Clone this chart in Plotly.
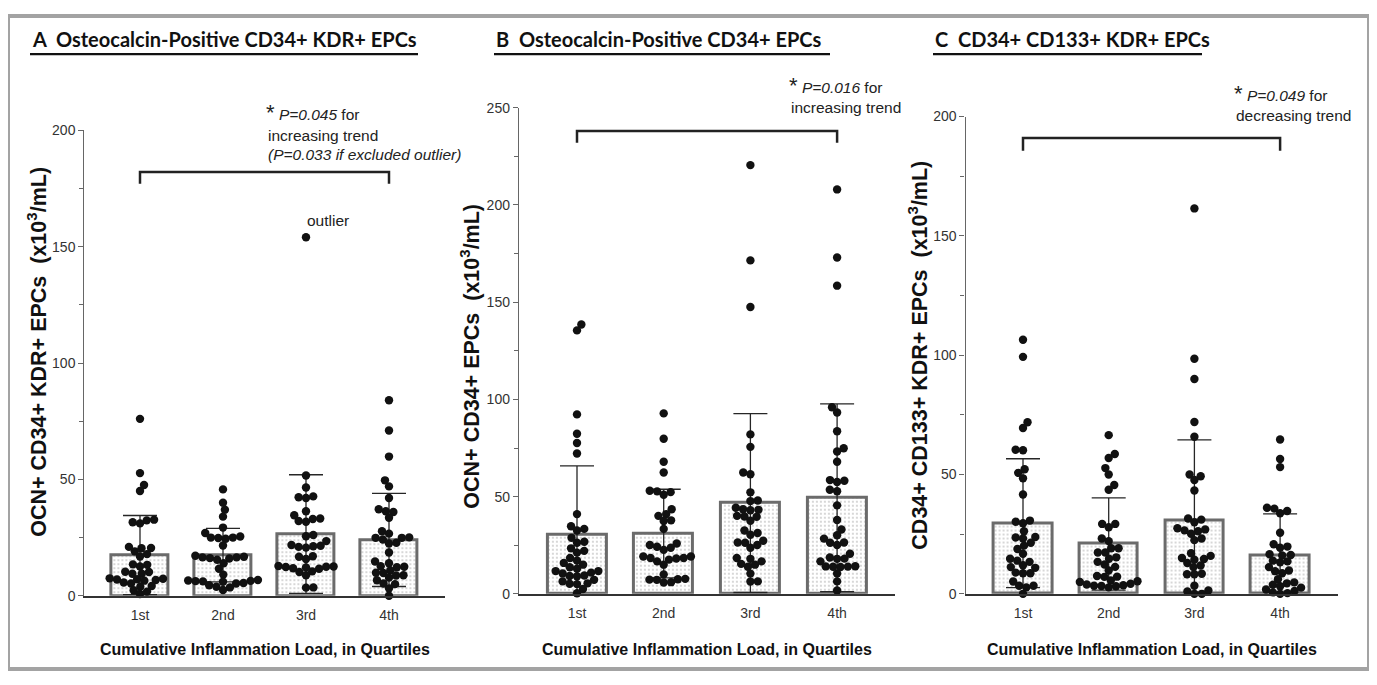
import numpy as np
import plotly.graph_objects as go

# ---------------- data ----------------
categories = ["1st", "2nd", "3rd", "4th"]

# Panel A: OCN+ CD34+ KDR+ EPCs
A_q1 = [76, 52.7, 47.6, 45, 32.7, 32.4, 31.6, 31.1, 21, 20.5, 20.4, 19.1, 17.9, 16.9, 13.5, 13.3, 12.6,
        10.3, 10.2, 9.5, 9.5, 7.5, 7.3, 7.1, 7.0, 6.8, 6.5, 5.7, 5.3, 4.2, 3.9, 2.4, 1.8, 0.8]
A_q2 = [45.7, 40, 37, 34, 29.3, 27, 25.5, 25, 25, 24.8, 24.5, 21.6, 17.2, 16.8, 16.5, 16.5, 16.2, 16,
        15.5, 14, 11.6, 9.1, 6.8, 6.6, 6.4, 6.3, 6.2, 6.0, 5.5, 5.3, 4.5, 3.9, 3.6, 2.5]
A_q3 = [154, 51.7, 46.5, 42.7, 42.3, 42, 36.3, 34.6, 33.2, 33, 32.1, 31.8, 26.1, 25.6, 23.5, 21.8, 21.5,
        21.3, 21, 20.7, 17, 16.8, 15.8, 12.8, 12.6, 12.5, 12.4, 12.2, 11.8, 11.6, 10.5, 10.2, 8.8, 3.6, 3.5]
A_q4 = [84, 71, 59.8, 49.6, 47, 42, 37.2, 36.3, 36, 33.5, 27.7, 26.7, 25.1, 24.9, 24.9, 24.2, 22.8, 22.5,
        18.6, 14.7, 14, 12.7, 12.5, 12.3, 10.9, 9.9, 9.8, 8.8, 8.7, 7.8, 6.7, 5.3, 5, 3.2, 0]
A_mean = [17.5, 17.5, 26.5, 24.0]
A_sd = [17.0, 11.5, 25.5, 20.0]

# Panel B: OCN+ CD34+ EPCs
B_q1 = [138.5, 135.5, 92.3, 82.3, 77.6, 72.2, 41, 34.8, 33.4, 32.6, 28.8, 26.8, 26.3, 23.4, 22.1, 21.2,
        18.4, 17.1, 15.9, 15, 13.7, 12.9, 11.7, 11.7, 10.9, 10.5, 9.4, 9.2, 9.0, 7.2, 6.4, 5.4, 5.2, 5,
        2.5, 0.3]
B_q2 = [92.8, 79.8, 67.9, 62.4, 53, 52.7, 52.3, 51, 43.5, 41, 40.1, 37.8, 37.5, 33.4, 25.9, 25.1, 24.2,
        23.7, 22.6, 19.2, 19.2, 18.4, 18.4, 18.2, 17.6, 16.7, 15, 10, 7.7, 7.5, 7.3, 7.2, 6, 5.8]
B_q3 = [220.5, 171.5, 147.5, 82, 75.6, 62.4, 61.5, 52.2, 48, 47.7, 44.3, 43.5, 43.2, 43, 40.1, 39.8, 39.6,
        37.6, 32.6, 31.3, 30.4, 27.3, 26.4, 26.3, 25.1, 23.7, 18.4, 18, 16.7, 15.4, 15, 13.9, 10.4, 6.4, 6.3]
B_q4 = [208, 173, 158.5, 96, 93.3, 83.6, 74.9, 73.2, 67.9, 58.5, 58.2, 57.5, 53.5, 52.8, 45.5, 38, 33.1,
        30.1, 28.4, 26.4, 26.3, 25.1, 20.6, 18.7, 18.1, 18, 16.7, 14.2, 14.1, 14, 13.9, 13.8, 10.5, 6.4, 1.7]
B_mean = [30.2, 31.0, 46.7, 49.4]
B_sd = [35.6, 22.8, 46.0, 48.3]

# Panel C: CD34+ CD133+ KDR+ EPCs
C_q1 = [106.5, 99.3, 71.9, 69.5, 60.4, 60.2, 52.2, 50.7, 48.4, 41.6, 30.7, 30.2, 29.6, 26.2, 23.8, 23.6,
        23.2, 21.4, 20.2, 18.8, 16.8, 14.7, 13.9, 13.4, 12, 11.2, 10.9, 8.9, 8.6, 8.6, 5.2, 3.4, 3.4, 2.7, 0]
C_q2 = [66.5, 58.6, 56.9, 52.7, 50, 45.6, 43.6, 29.3, 29.3, 27.9, 23.2, 22.1, 19.1, 19.1, 17.3, 17.3, 15.3,
        14.7, 13.4, 12.3, 11.3, 9.8, 7.5, 7.2, 7.1, 5.6, 5.3, 5.0, 4.2, 3.9, 3.6, 3.4, 3.3, 3.2, 2.7]
C_q3 = [161.5, 98.5, 90, 72, 65.8, 50, 49.3, 47.7, 43.3, 31.6, 31.1, 30, 27.5, 27, 26.6, 26.2, 25.2, 23.2,
        22.5, 17, 15.9, 15, 14.6, 14.3, 12.9, 11.9, 11.2, 8.4, 8.2, 8.2, 3.4, 1.4, 1, 0, 0]
C_q4 = [64.7, 56.5, 53.1, 36.1, 35.7, 34.7, 33.8, 25.6, 20.8, 19.8, 19.3, 16.6, 16.3, 16.1, 13.9, 13.6,
        13.2, 11.2, 9.8, 9.5, 8.6, 6.1, 4.8, 4.4, 3.8, 3.2, 2.6, 1.8, 1.2, 0.6, 0.3, 0]
C_mean = [29.6, 20.9, 30.7, 16.0]
C_sd = [27.0, 19.3, 33.8, 17.5]

# ---------------- layout helpers ----------------
OX, OY = 8, 8
W, H = 1361, 669


def px(X):
    return (X - OX) / W


def py(Y):
    return 1 - (Y - OY) / H


XR = [-0.67, 3.67]
FONT = "Liberation Sans, Arial, sans-serif"

panels = [
    dict(groups=[A_q1, A_q2, A_q3, A_q4], mean=A_mean, sd=A_sd, cat0=140, dcat=83.0,
         y0=602, ytop=125, ymax=200, dtick=50,
         ytitle="OCN+ CD34+ KDR+ EPCs  (x10<sup>3</sup>/mL)", ytx=37, yty=352,
         bracket=(182, 177)),
    dict(groups=[B_q1, B_q2, B_q3, B_q4], mean=B_mean, sd=B_sd, cat0=577, dcat=86.7,
         y0=600, ytop=102, ymax=250, dtick=50,
         ytitle="OCN+ CD34+ EPCs  (x10<sup>3</sup>/mL)", ytx=470, yty=356,
         bracket=(238, 232)),
    dict(groups=[C_q1, C_q2, C_q3, C_q4], mean=C_mean, sd=C_sd, cat0=1023, dcat=85.7,
         y0=600, ytop=111, ymax=200, dtick=50,
         ytitle="CD34+ CD133+ KDR+ EPCs  (x10<sup>3</sup>/mL)", ytx=918, yty=356,
         bracket=(191, 185.7)),
]


def swarm(vals, ypu, d=7.4):
    vals = np.asarray(vals, float)
    order = np.argsort(vals, kind="stable")
    placed = []
    xs = np.zeros(len(vals))
    side = 1
    for i in order:
        y = vals[i] * ypu
        cands = [0.0]
        for (qx, qy) in placed:
            dy = abs(qy - y)
            if dy < d:
                dx = np.sqrt(d * d - dy * dy)
                cands += [qx + dx, qx - dx]
        cands = sorted(cands, key=lambda c: (round(abs(c), 3), -side * c))
        for c in cands:
            if all((c - qx) ** 2 + (y - qy) ** 2 >= d * d - 1e-6 for qx, qy in placed):
                xs[i] = c
                break
        if xs[i] != 0:
            side = -side
        placed.append((xs[i], y))
    return xs


fig = go.Figure()
shapes = []
annotations = []

for k, p in enumerate(panels):
    sfx = "" if k == 0 else str(k + 1)
    xa = "x" + sfx
    ya = "y" + sfx
    xl = p["cat0"] + XR[0] * p["dcat"]
    xr = p["cat0"] + XR[1] * p["dcat"]
    ypu = (p["y0"] - p["ytop"]) / p["ymax"]

    fig.add_trace(go.Bar(
        x=[0, 1, 2, 3], y=p["mean"], width=0.68, xaxis=xa, yaxis=ya,
        marker=dict(color="white", line=dict(color="#6b6b6b", width=3),
                    pattern=dict(shape=".", fgcolor="#9c9c9c", bgcolor="white", size=4, solidity=0.22)),
        error_y=dict(type="data", array=p["sd"], color="#262626", thickness=1.3, width=17),
        showlegend=False, hoverinfo="skip"))

    xs_all, ys_all = [], []
    for gi, vals in enumerate(p["groups"]):
        offs = swarm(vals, ypu)
        xs_all += list(gi + offs / p["dcat"])
        ys_all += list(vals)
    fig.add_trace(go.Scatter(
        x=xs_all, y=ys_all, mode="markers", xaxis=xa, yaxis=ya, cliponaxis=False,
        marker=dict(size=8.4, color="#111111", line=dict(width=0)), showlegend=False))

    fig.layout["xaxis" + sfx] = dict(
        domain=[px(xl), px(xr)], range=XR, anchor=ya, showgrid=False, zeroline=False,
        showline=True, linecolor="#333", linewidth=1.6, ticks="", tickvals=[0, 1, 2, 3],
        ticktext=categories, tickfont=dict(family=FONT, size=14, color="#333"),
        ticklabelstandoff=6, fixedrange=True)
    fig.layout["yaxis" + sfx] = dict(
        domain=[py(p["y0"]), py(p["ytop"])], range=[0, p["ymax"]], anchor=xa, showgrid=False,
        zeroline=False, showline=True, linecolor="#666", linewidth=1.3, ticks="outside",
        ticklen=5, tickwidth=1.2, tickcolor="#666", dtick=p["dtick"],
        minor=dict(dtick=25, ticks="outside", ticklen=4, tickcolor="#666", tickwidth=1),
        tickfont=dict(family=FONT, size=14, color="#333"), fixedrange=True)

    # bracket
    bt, be = p["bracket"]
    shapes.append(dict(type="path", xref=xa, yref=ya,
                       path=f"M 0,{be} L 0,{bt} L 3,{bt} L 3,{be}",
                       line=dict(color="#222", width=2.5)))

    # y title
    annotations.append(dict(text="<b>" + p["ytitle"] + "</b>", x=px(p["ytx"]), y=py(p["yty"]),
                            xref="paper", yref="paper", textangle=-90, showarrow=False,
                            font=dict(family=FONT, size=21.5, color="#111"),
                            xanchor="center", yanchor="middle"))
    # x title
    annotations.append(dict(text="<b>Cumulative Inflammation Load, in Quartiles</b>",
                            x=px((xl + xr) / 2), y=py(657), xref="paper", yref="paper",
                            showarrow=False, font=dict(family=FONT, size=16, color="#111"),
                            xanchor="center", yanchor="middle"))

# panel titles
titles = [("A  Osteocalcin-Positive CD34+ KDR+ EPCs", 30, 418),
          ("B  Osteocalcin-Positive CD34+ EPCs", 494, 830),
          ("C  CD34+ CD133+ KDR+ EPCs", 933, 1202)]
for t, x0, x1 in titles:
    annotations.append(dict(text="<b>" + t + "</b>", x=px(x0), y=py(32), xref="paper", yref="paper",
                            showarrow=False, xanchor="left", yanchor="middle",
                            font=dict(family="Lato, Open Sans, sans-serif", size=20, color="#111")))
    shapes.append(dict(type="line", xref="paper", yref="paper", x0=px(x0), x1=px(x1),
                       y0=py(47), y1=py(47), line=dict(color="#111", width=2.2)))

STAR = "<span style='font-size:22px'>*</span> "
notes = [
    (STAR + "<i>P=0.045</i> for", 264, 107),
    ("increasing trend", 266, 130),
    ("<i>(P=0.033 if excluded outlier)</i>", 266, 150),
    (STAR + "<i>P=0.016</i> for", 787, 79),
    ("increasing trend", 789, 102),
    (STAR + "<i>P=0.049</i> for", 1232, 87),
    ("decreasing trend", 1234, 110),
]
for t, x, y in notes:
    annotations.append(dict(text=t, x=px(x), y=py(y), xref="paper", yref="paper", showarrow=False,
                            xanchor="left", yanchor="middle",
                            font=dict(family=FONT, size=15.5, color="#222")))
annotations.append(dict(text="outlier", x=px(328), y=py(217), xref="paper", yref="paper",
                        showarrow=False, xanchor="center", yanchor="middle",
                        font=dict(family=FONT, size=15.5, color="#222")))

# outer frame
shapes.append(dict(type="rect", xref="paper", yref="paper", x0=0, x1=1, y0=0, y1=1,
                   line=dict(color="#a3a3a3", width=4)))

fig.update_layout(width=W, height=H, margin=dict(l=0, r=0, t=0, b=0),
                  paper_bgcolor="white", plot_bgcolor="white",
                  shapes=shapes, annotations=annotations, bargap=0, showlegend=False)

fig.write_html("out.html")
